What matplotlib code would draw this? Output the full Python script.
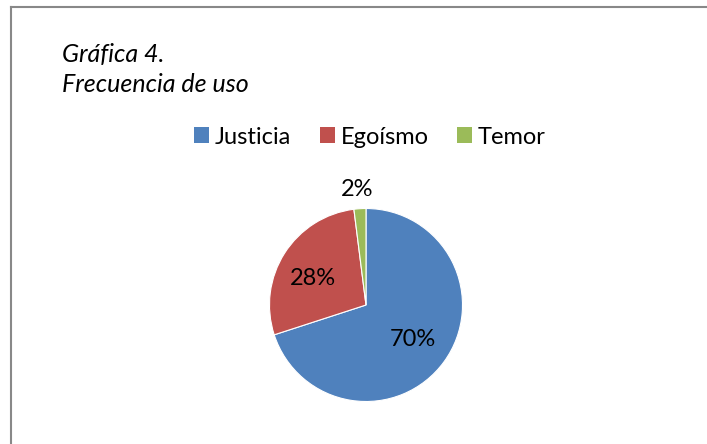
import matplotlib
matplotlib.use("Agg")
import matplotlib.pyplot as plt
from matplotlib.patches import Patch
from matplotlib.lines import Line2D

labels = ['Justicia', 'Egoísmo', 'Temor']
values = [70, 28, 2]
colors = ['#4F81BD', '#C0504D', '#9BBB59']
title_lines = ['Gráfica 4.', 'Frecuencia de uso']

plt.rcParams['font.family'] = ['Lato', 'DejaVu Sans']

W, H = 707, 444
fig = plt.figure(figsize=(W / 100, H / 100), dpi=100)

# only top and left edges of the chart frame are visible
fig.add_artist(Line2D([10.5 / W, 1], [1 - 7.5 / H, 1 - 7.5 / H], color='#888888', lw=1.5, transform=fig.transFigure))
fig.add_artist(Line2D([10.5 / W, 10.5 / W], [0, 1 - 7.5 / H], color='#888888', lw=1.5, transform=fig.transFigure))

fig.text(62 / W, 1 - 62 / H, title_lines[0], fontsize=18, style='italic', va='baseline')
fig.text(62 / W, 1 - 92 / H, title_lines[1], fontsize=18, style='italic', va='baseline')

# pie axes, centre (366, 305) px, radius ~96 px
cx, cy, r = 366, 305, 96.5
ax = fig.add_axes([(cx - r) / W, 1 - (cy + r) / H, 2 * r / W, 2 * r / H])
wedges, texts, autotexts = ax.pie(values, colors=colors, startangle=90, counterclock=False,
                                  autopct='%1.0f%%', pctdistance=0.6,
                                  wedgeprops=dict(edgecolor='white', linewidth=0.8),
                                  textprops=dict(fontsize=17, color='black'))
ax.set_xlim(-1, 1)
ax.set_ylim(-1, 1)
ax.set_frame_on(False)
# nudge labels the way excel places them
autotexts[1].set_position((-0.55, 0.27))
autotexts[2].set_position((-0.09, 1.2))
autotexts[2].set_clip_on(False)

handles = [Patch(facecolor=c, edgecolor='none') for c in colors]
fig.legend(handles, labels, loc='center', bbox_to_anchor=(370 / W, 1 - 137 / H), ncol=3,
           frameon=False, fontsize=17, handlelength=0.64, handleheight=0.64,
           handletextpad=0.25, columnspacing=1.2)

fig.savefig('out.png', dpi=100)
